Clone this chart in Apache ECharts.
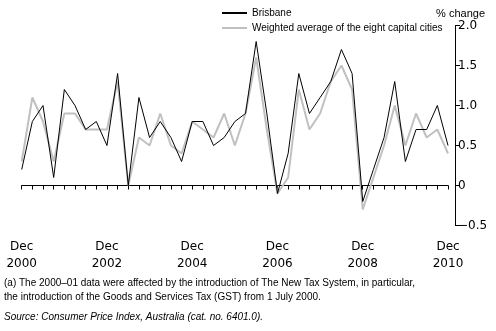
<!DOCTYPE html>
<html><head><meta charset="utf-8">
<script src="https://cdn.jsdelivr.net/npm/echarts@6/dist/echarts.min.js"></script>
<style>html,body{margin:0;padding:0;background:#fff}#c{width:496px;height:331px}</style>
</head><body><div id="c"></div>
<script>
// quarters Dec 2000 .. Dec 2010
var quarters = [];
var qNames = ['Mar','Jun','Sep','Dec'];
quarters.push('Dec 2000');
for (var y = 2001; y <= 2010; y++) { for (var q = 0; q < 4; q++) quarters.push(qNames[q] + ' ' + y); }

var brisbane = [0.2,0.8,1.0,0.1,1.2,1.0,0.7,0.8,0.5,1.4,0.0,1.1,0.6,0.8,0.6,0.3,0.8,0.8,0.5,0.6,0.8,0.9,1.8,0.9,-0.1,0.4,1.4,0.9,1.1,1.3,1.7,1.4,-0.2,0.2,0.6,1.3,0.3,0.7,0.7,1.0,0.5];
var weightedAvg = [0.3,1.1,0.8,0.3,0.9,0.9,0.7,0.7,0.7,1.3,0.0,0.6,0.5,0.9,0.5,0.4,0.8,0.7,0.6,0.9,0.5,0.9,1.6,0.7,-0.1,0.1,1.2,0.7,0.9,1.3,1.5,1.2,-0.3,0.1,0.5,1.0,0.5,0.9,0.6,0.7,0.4];
var seriesNames = ['Brisbane','Weighted average of the eight capital cities'];
var footnote1 = '(a) The 2000\u201301 data were affected by the introduction of The New Tax System, in particular,';
var footnote2 = 'the introduction of the Goods and Services Tax (GST) from 1 July 2000.';
var source = 'Source: Consumer Price Index, Australia (cat. no. 6401.0).';

var chart = echarts.init(document.getElementById('c'), null, {renderer:'canvas'});
var lab = "'DejaVu Sans', sans-serif";
var txt = "'Liberation Sans', Arial, sans-serif";
chart.setOption({
  animation: false,
  backgroundColor: '#fff',
  title: { text: '% change', right: 6, top: 3, textStyle: { fontFamily: txt, fontSize: 11, fontWeight: 'normal', color: '#000' } },
  legend: {
    orient: 'vertical', left: 222, top: 8, padding: 0, itemWidth: 25, itemHeight: 2, itemGap: 5,
    textStyle: { fontFamily: txt, fontSize: 10, color: '#000' },
    data: [
      {name: seriesNames[0], icon: 'rect', itemStyle: { color: '#000' }},
      {name: seriesNames[1], icon: 'rect', itemStyle: { color: '#c0c0c0' }}
    ]
  },
  grid: { left: 21.7, right: 48, top: 25.5, bottom: 105.5, containLabel: false },
  xAxis: {
    type: 'category', data: quarters, boundaryGap: false, offset: 7,
    axisLine: { lineStyle: { color: '#000', width: 1 } },
    axisTick: { show: true, interval: 0, length: 4, inside: false, lineStyle: { color: '#000' } },
    axisLabel: {
      interval: function (i) { return i % 8 === 0; },
      formatter: function (v) { return v.replace(' ', '\n'); },
      fontFamily: lab, fontSize: 12, color: '#000', lineHeight: 17, margin: 6
    },
    splitLine: { show: false }
  },
  yAxis: {
    type: 'value', position: 'right', min: -0.5, max: 2.0, interval: 0.5, offset: 7,
    axisLine: { show: true, lineStyle: { color: '#000', width: 1 } },
    axisTick: { show: true, length: 5, inside: false, lineStyle: { color: '#000' } },
    axisLabel: {
      fontFamily: lab, fontSize: 12, color: '#000', margin: 3,
      formatter: function (v) { return v === 0 ? '0' : (v < 0 ? '\u2212' + Math.abs(v).toFixed(1) : v.toFixed(1)); }
    },
    splitLine: { show: false }
  },
  series: [
    { name: seriesNames[1], type: 'line', data: weightedAvg, symbol: 'none', z: 2,
      lineStyle: { color: '#c0c0c0', width: 2 }, itemStyle: { color: '#c0c0c0' } },
    { name: seriesNames[0], type: 'line', data: brisbane, symbol: 'none', z: 3,
      lineStyle: { color: '#000', width: 1 }, itemStyle: { color: '#000' } }
  ],
  graphic: [
    { type: 'text', left: 4, top: 278, style: { text: footnote1, font: "10px 'Liberation Sans', Arial, sans-serif", fill: '#000' } },
    { type: 'text', left: 4, top: 292, style: { text: footnote2, font: "10px 'Liberation Sans', Arial, sans-serif", fill: '#000' } },
    { type: 'text', left: 4, top: 312, style: { text: source, font: "italic 10px 'Liberation Sans', Arial, sans-serif", fill: '#000' } }
  ]
});
</script></body></html>
